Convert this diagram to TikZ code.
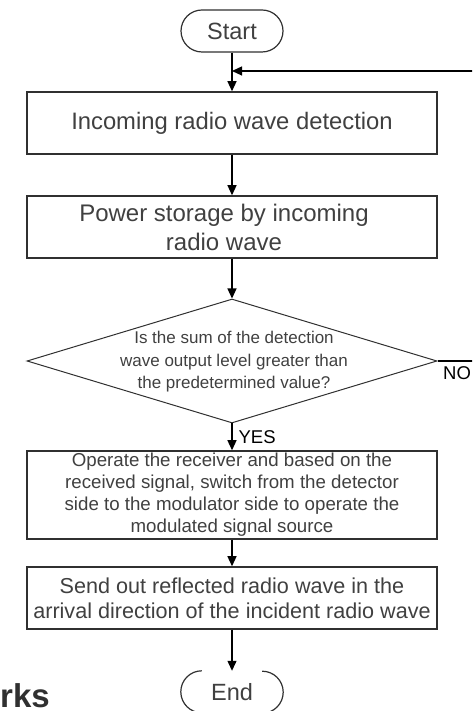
\documentclass[tikz,border=0pt]{standalone}
\usepackage{fontspec}
\setmainfont{Liberation Sans}
\usetikzlibrary{arrows.meta,shapes.geometric}
\definecolor{txt}{HTML}{404040}
\definecolor{edge}{HTML}{303030}
\tikzset{
  box/.style={draw=edge,line width=1.5pt,minimum width=410pt,inner sep=0pt,align=center,text=txt},
  term/.style={minimum width=102pt,minimum height=42pt,inner sep=0pt,text=txt,font=\fontsize{23.5}{28}\selectfont},
  arr/.style={line width=1.2pt,-{Triangle[length=10pt,width=9pt]}},
  lbl/.style={inner sep=0pt,font=\fontsize{18.5}{22}\selectfont}
}
\begin{document}
\begin{tikzpicture}[x=1pt,y=1pt]
\clip (0,0) rectangle (472,711);
\node[term,draw=edge,line width=1.2pt,rounded corners=21pt] (start) at (232,680) {Start};
\node[box,minimum height=62pt,font=\fontsize{23.8}{28}\selectfont] (b1) at (232,588) {Incoming radio wave detection};
\node[box,minimum height=62pt] (b2) at (232,484) {};
\node[inner sep=0pt,align=center,text=txt,font=\fontsize{24}{29}\selectfont] (t2) at (224,484) {Power storage by incoming\\radio wave};
\node[diamond,draw=edge,line width=1pt,minimum width=410pt,minimum height=124pt,inner sep=0pt] (d) at (232,350) {};
\node[inner sep=0pt,align=center,text=txt,font=\fontsize{17}{22.5}\selectfont] (dt) at (234,349) {Is the sum of the detection\\wave output level greater than\\the predetermined value?};
\node[box,minimum height=88pt,font=\fontsize{18.7}{22}\selectfont] (b3) at (232,216) {Operate the receiver and based on the\\received signal, switch from the detector\\side to the modulator side to operate the\\modulated signal source};
\node[box,minimum height=62pt,font=\fontsize{21.6}{25}\selectfont] (b4) at (232,113) {Send out reflected radio wave in the\\arrival direction of the incident radio wave};
\node[term] (end) at (232,19) {End};
\draw[edge,line width=1.2pt] ([xshift=21pt]end.north west) arc[start angle=90,end angle=270,radius=21pt];
\draw[edge,line width=1.2pt] ([xshift=-21pt]end.south east) arc[start angle=-90,end angle=90,radius=21pt];
\coordinate (fb) at (232,640);
\draw[arr] (start) -- (b1);
\draw[arr] (b1) -- (b2);
\draw[arr] (b2) -- (d.north);
\draw[arr] (d.south) -- node[lbl,anchor=west,xshift=6pt] (yes) {YES} (b3);
\draw[arr] (b3) -- (b4);
\draw[arr] (b4) -- (end);
\draw[arr] (d.east) -- ++(60,0) |- (fb);
\node[lbl,anchor=north west] (no) at (443,345) {NO};
\node[inner sep=0pt,anchor=base west,text=edge,font=\bfseries\fontsize{33}{36}\selectfont] (rks) at (0,4) {rks};
\end{tikzpicture}
\end{document}
